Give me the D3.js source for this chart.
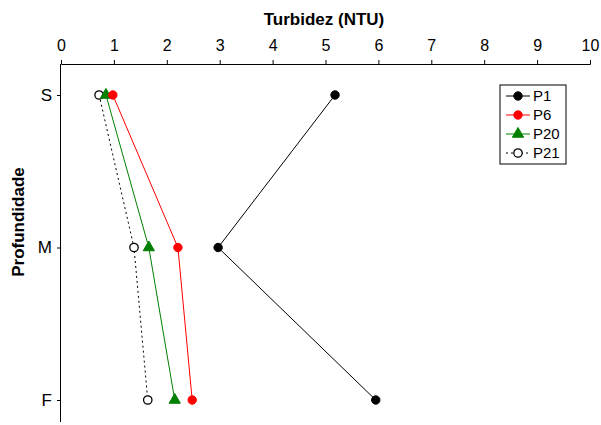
<!DOCTYPE html>
<html>
<head>
<meta charset="utf-8">
<script src="https://cdn.jsdelivr.net/npm/d3@7"></script>
<style>
  body { margin: 0; background: #fff; }
  svg { font-family: "Liberation Sans", Arial, sans-serif; }
</style>
</head>
<body>
<div id="chart"></div>
<script>
// depth levels (top to bottom) and turbidity per station
const depths = ['S', 'M', 'F'];
const xTicks = [0, 1, 2, 3, 4, 5, 6, 7, 8, 9, 10];
const p1 = [5.18, 2.97, 5.95];
const p6 = [0.98, 2.21, 2.48];
const p20 = [0.85, 1.66, 2.15];
const p21 = [0.72, 1.38, 1.64];

const series = [
  { name: 'P1', values: p1, color: '#000', marker: 'circle', fill: '#000', dash: null },
  { name: 'P6', values: p6, color: '#ff0000', marker: 'circle', fill: '#ff0000', dash: null },
  { name: 'P20', values: p20, color: '#008000', marker: 'triangle', fill: '#008000', dash: null },
  { name: 'P21', values: p21, color: '#000', marker: 'circle', fill: '#fff', dash: '2,3' }
];

const width = 601, height = 425;
const margin = { top: 64, left: 61, right: 11, bottom: 3 };

const svg = d3.select('#chart').append('svg')
  .attr('width', width)
  .attr('height', height);

const x = d3.scaleLinear().domain([0, 10]).range([margin.left, width - margin.right]);
const y = d3.scalePoint().domain(depths).range([95, 400]);

// top axis
svg.append('g')
  .attr('transform', `translate(0,${margin.top})`)
  .call(d3.axisTop(x).tickValues(xTicks).tickSize(4).tickPadding(9).tickFormat(d3.format('d')))
  .call(g => g.selectAll('text').attr('font-size', 16).attr('fill', '#000').attr('font-family', 'Liberation Sans, Arial'))
  .call(g => g.selectAll('line, path').attr('stroke', '#000'));

// left axis
svg.append('g')
  .attr('transform', `translate(${margin.left},0)`)
  .call(d3.axisLeft(y).tickSize(4).tickPadding(5))
  .call(g => g.select('.domain').attr('d', `M-0.5,${margin.top}V${height - margin.bottom}`))
  .call(g => g.selectAll('text').attr('font-size', 17).attr('fill', '#000').attr('font-family', 'Liberation Sans, Arial'))
  .call(g => g.selectAll('line, path').attr('stroke', '#000'));

svg.append('text')
  .attr('x', 324)
  .attr('y', 25)
  .attr('text-anchor', 'middle')
  .attr('font-size', 17)
  .attr('font-weight', 'bold')
  .text('Turbidez (NTU)');

svg.append('text')
  .attr('transform', `translate(24,222) rotate(-90)`)
  .attr('text-anchor', 'middle')
  .attr('font-size', 17)
  .attr('font-weight', 'bold')
  .text('Profundidade');

const line = d3.line()
  .x(d => x(d[0]))
  .y(d => y(d[1]));

function drawMarker(g, s, cx, cy) {
  if (s.marker === 'triangle') {
    g.append('path')
      .attr('d', d3.symbol(d3.symbolTriangle, 55)())
      .attr('transform', `translate(${cx},${cy})`)
      .attr('fill', s.fill)
      .attr('stroke', s.color);
  } else {
    g.append('circle')
      .attr('cx', cx).attr('cy', cy).attr('r', 4.2)
      .attr('fill', s.fill)
      .attr('stroke', s.color)
      .attr('stroke-width', s.fill === '#fff' ? 1.3 : 1);
  }
}

// draw in reverse so P1 sits on top
series.slice().reverse().forEach(s => {
  const pts = s.values.map((v, i) => [v, depths[i]]);
  const g = svg.append('g');
  g.append('path')
    .datum(pts)
    .attr('fill', 'none')
    .attr('stroke', s.color)
    .attr('stroke-width', 1)
    .attr('stroke-dasharray', s.dash)
    .attr('d', line);
  pts.forEach(p => drawMarker(g, s, x(p[0]), y(p[1])));
});

// legend
const lg = svg.append('g').attr('transform', 'translate(500,85)');
lg.append('rect')
  .attr('width', 66).attr('height', 79)
  .attr('fill', '#fff').attr('stroke', '#000');
series.forEach((s, i) => {
  const yy = 11 + i * 19;
  lg.append('line')
    .attr('x1', 6).attr('x2', 30).attr('y1', yy).attr('y2', yy)
    .attr('stroke', s.color)
    .attr('stroke-dasharray', s.dash);
  drawMarker(lg, s, 18, yy);
  lg.append('text')
    .attr('x', 33).attr('y', yy + 5)
    .attr('font-size', 15)
    .text(s.name);
});
</script>
</body>
</html>
